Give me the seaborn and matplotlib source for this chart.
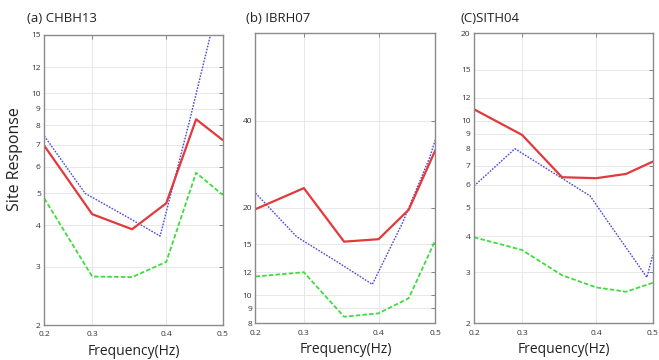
import numpy as np
import pandas as pd
import seaborn as sns
import matplotlib.pyplot as plt
from matplotlib.ticker import FixedLocator, FixedFormatter, NullLocator

# x positions: equal-width bands drawn on a log axis, labelled in Hz
band = [4.5, 5.5, 6.5, 7.5, 8.5, 9.5]
band_blue = [4.5, 5.34, 6.33, 7.31, 8.29, 9.27, 9.5]
tick_band = [4.5, 5.5, 7.5, 9.5]
tick_hz = ["0.2", "0.3", "0.4", "0.5"]

# (a) CHBH13
chbh13_red = [6.95, 4.32, 3.89, 4.66, 8.35, 7.23]
chbh13_green = [4.82, 2.80, 2.79, 3.10, 5.76, 4.94]
chbh13_blue = [7.44, 4.99, 4.26, 3.71, 8.4, 18.0, 20.0]
chbh13_yticks = [2, 3, 4, 5, 6, 7, 8, 9, 10, 12, 15]

# (b) IBRH07
ibrh07_red = [19.8, 23.4, 15.3, 15.6, 19.7, 31.7]
ibrh07_green = [11.6, 12.0, 8.43, 8.66, 9.76, 15.5]
ibrh07_blue = [22.5, 15.9, 13.0, 10.9, 17.8, 29.8, 34.4]
ibrh07_yticks = [8, 9, 10, 12, 15, 20, 40]

# (c) SITH04
sith04_red = [10.94, 8.93, 6.38, 6.33, 6.55, 7.22]
sith04_green = [3.96, 3.58, 2.93, 2.66, 2.57, 2.76]
sith04_blue = [5.95, 8.0, 6.53, 5.50, 3.90, 2.88, 3.44]
sith04_yticks = [2, 3, 4, 5, 6, 7, 8, 9, 10, 12, 15, 20]

panels = [
    ("(a) CHBH13", chbh13_red, chbh13_green, chbh13_blue, chbh13_yticks, (2, 15)),
    ("(b) IBRH07", ibrh07_red, ibrh07_green, ibrh07_blue, ibrh07_yticks, (8, 80)),
    ("(C)SITH04", sith04_red, sith04_green, sith04_blue, sith04_yticks, (2, 20)),
]

# axes boxes in figure fractions [left, bottom, width, height]
boxes = [
    [0.0672, 0.0972, 0.2707, 0.8056],
    [0.3877, 0.1019, 0.2731, 0.8056],
    [0.7193, 0.1019, 0.2712, 0.8056],
]
title_x = [0.041, 0.373, 0.699]

sns.set_style("white")
plt.rcParams["font.family"] = ["Open Sans", "DejaVu Sans"]

fig = plt.figure(figsize=(6.59, 3.60), dpi=100)

for (title, red, green, blue, yticks, ylim), box, tx in zip(panels, boxes, title_x):
    ax = fig.add_axes(box)
    ax.set_xscale("log")
    ax.set_yscale("log")

    sns.lineplot(x=band, y=green, ax=ax, color="#3fdc3f", lw=1.3,
                 linestyle=(0, (2.5, 1.2)), sort=False)
    sns.lineplot(x=band_blue, y=blue, ax=ax, color="#4a4ad8", lw=1.0,
                 linestyle=(0, (1.2, 1.0)), sort=False)
    sns.lineplot(x=band, y=red, ax=ax, color="#e2393b", lw=1.6, sort=False)

    ax.set_xlim(band[0], band[-1])
    ax.set_ylim(*ylim)

    ax.xaxis.set_major_locator(FixedLocator(tick_band))
    ax.xaxis.set_major_formatter(FixedFormatter(tick_hz))
    ax.xaxis.set_minor_locator(NullLocator())
    ax.yaxis.set_major_locator(FixedLocator(yticks))
    ax.yaxis.set_major_formatter(FixedFormatter([str(t) for t in yticks]))
    ax.yaxis.set_minor_locator(NullLocator())

    ax.grid(True, color="#e4e4e4", lw=0.6)
    ax.tick_params(direction="in", length=3, width=0.6, color="#707070",
                   labelsize=6, labelcolor="#333333",
                   top=True, right=True)
    ax.tick_params(axis="x", pad=4.5)
    ax.tick_params(axis="y", pad=2.5)
    for s in ax.spines.values():
        s.set_color("#8a8a8a")
        s.set_linewidth(1.0)

    ax.set_xlabel("Frequency(Hz)", fontsize=10, labelpad=4, color="#222222")
    ax.set_ylabel("")
    fig.text(tx, 1 - 18 / 360, title, fontsize=9.5, ha="left", va="center",
             color="#222222")

fig.text(0.023, 0.558, "Site Response", rotation=90, fontsize=11.5,
         ha="center", va="center", color="#222222")

fig.savefig("out.png", dpi=100)
